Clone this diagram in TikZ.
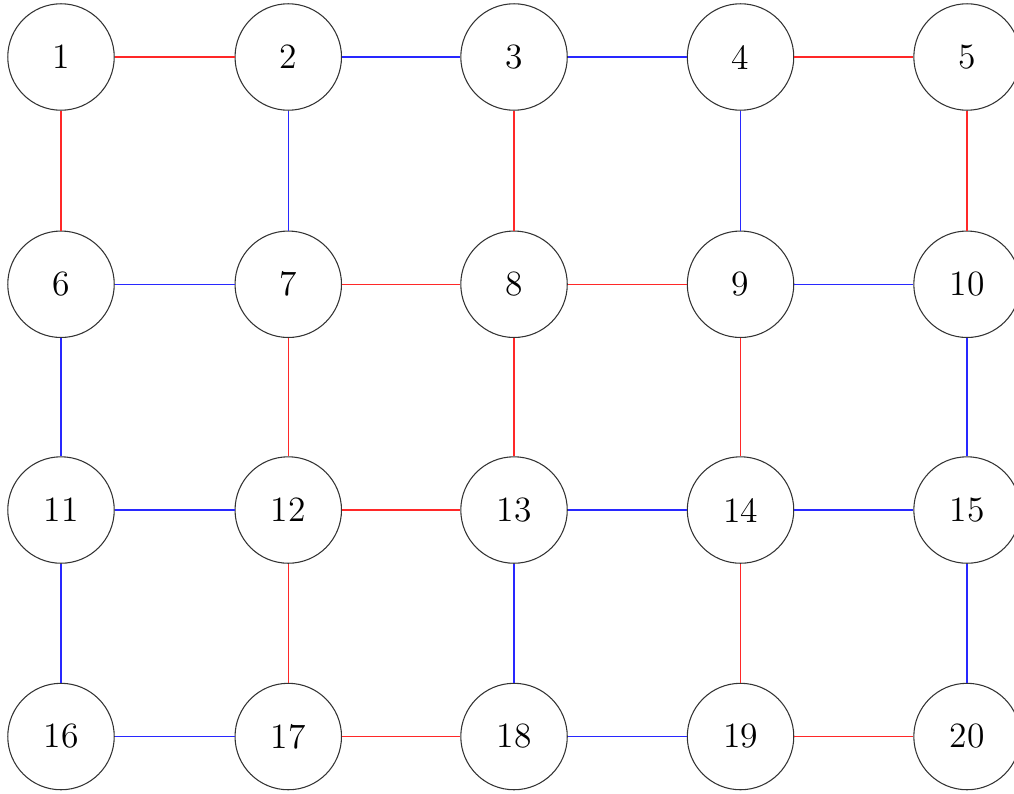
\documentclass[tikz,border=0pt]{standalone}
\usepackage{tikz}
\usetikzlibrary{positioning}
\definecolor{bondred}{RGB}{255,40,40}
\definecolor{bondblue}{RGB}{40,40,255}
\tikzset{
    site/.style={circle, draw=black!80, minimum size=1.41cm, inner sep=0pt, font=\fontsize{13.4}{16}\selectfont},
    redbond/.style={draw=bondred, line width=0.5pt},
    bluebond/.style={draw=bondblue, line width=0.5pt},
}
\begin{document}
\begin{tikzpicture}
    \useasboundingbox (-0.808,0.755) rectangle (12.622,-9.748);

    % Row 1
    \node[site] (n1) at (0, 0) {1};
    \node[site] (n2) at (3.01, 0) {2};
    \node[site] (n3) at (6, 0) {3};
    \node[site] (n4) at (9, 0) {4};
    \node[site] (n5) at (12, 0) {5};

    % Row 2
    \node[site] (n6) at (0, -3.01) {6};
    \node[site] (n7) at (3.01, -3.01) {7};
    \node[site] (n8) at (6, -3.01) {8};
    \node[site] (n9) at (9, -3.01) {9};
    \node[site] (n10) at (12, -3.01) {10};

    % Row 3
    \node[site] (n11) at (0, -6) {11};
    \node[site] (n12) at (3.01, -6) {12};
    \node[site] (n13) at (6, -6) {13};
    \node[site] (n14) at (9, -6) {14};
    \node[site] (n15) at (12, -6) {15};

    % Row 4
    \node[site] (n16) at (0, -9) {16};
    \node[site] (n17) at (3.01, -9) {17};
    \node[site] (n18) at (6, -9) {18};
    \node[site] (n19) at (9, -9) {19};
    \node[site] (n20) at (12, -9) {20};

    % Horizontal bonds
    \draw[redbond] (n1) -- (n2);
    \draw[bluebond] (n2) -- (n3);
    \draw[bluebond] (n3) -- (n4);
    \draw[redbond] (n4) -- (n5);
    \draw[bluebond] (n6) -- (n7);
    \draw[redbond] (n7) -- (n8);
    \draw[redbond] (n8) -- (n9);
    \draw[bluebond] (n9) -- (n10);
    \draw[bluebond] (n11) -- (n12);
    \draw[redbond] (n12) -- (n13);
    \draw[bluebond] (n13) -- (n14);
    \draw[bluebond] (n14) -- (n15);
    \draw[bluebond] (n16) -- (n17);
    \draw[redbond] (n17) -- (n18);
    \draw[bluebond] (n18) -- (n19);
    \draw[redbond] (n19) -- (n20);

    % Vertical bonds
    \draw[redbond] (n1) -- (n6);
    \draw[bluebond] (n2) -- (n7);
    \draw[redbond] (n3) -- (n8);
    \draw[bluebond] (n4) -- (n9);
    \draw[redbond] (n5) -- (n10);
    \draw[bluebond] (n6) -- (n11);
    \draw[redbond] (n7) -- (n12);
    \draw[redbond] (n8) -- (n13);
    \draw[redbond] (n9) -- (n14);
    \draw[bluebond] (n10) -- (n15);
    \draw[bluebond] (n11) -- (n16);
    \draw[redbond] (n12) -- (n17);
    \draw[bluebond] (n13) -- (n18);
    \draw[redbond] (n14) -- (n19);
    \draw[bluebond] (n15) -- (n20);
\end{tikzpicture}
\end{document}
